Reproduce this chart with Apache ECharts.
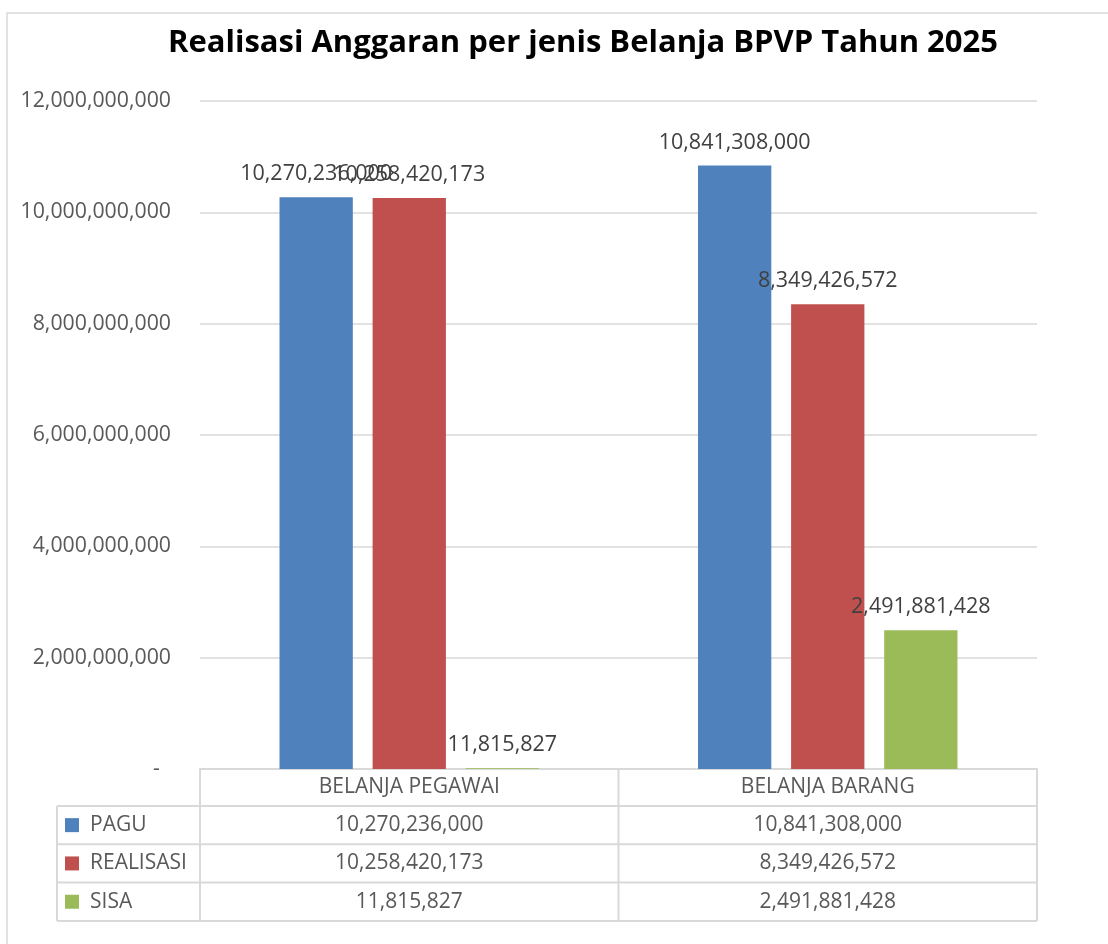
<!DOCTYPE html>
<html>
<head>
<meta charset="utf-8">
<script src="https://cdn.jsdelivr.net/npm/echarts@6/dist/echarts.min.js"></script>
<style>
  html, body { margin: 0; padding: 0; background: #ffffff; }
  #chart { width: 1108px; height: 944px; }
</style>
</head>
<body>
<div id="chart"></div>
<script>
// ---- data ----
const titleText = 'Realisasi Anggaran per jenis Belanja BPVP Tahun 2025';
const categories = ['BELANJA PEGAWAI', 'BELANJA BARANG'];
const seriesNames = ['PAGU', 'REALISASI', 'SISA'];
const pagu = [10270236000, 10841308000];
const realisasi = [10258420173, 8349426572];
const sisa = [11815827, 2491881428];
const yMin = 0, yMax = 12000000000, yStep = 2000000000;

// ---- styles ----
const colors = ['#4F81BD', '#C0504D', '#9BBB59'];
const FONT = '"Open Sans", "Noto Sans", sans-serif';
const fmt = v => Number(v).toLocaleString('en-US');
const seriesData = [pagu, realisasi, sisa];

const chart = echarts.init(document.getElementById('chart'), null, { renderer: 'canvas' });

const option = {
  backgroundColor: '#ffffff',
  animation: false,
  color: colors,
  title: {
    text: titleText,
    left: 578, top: 23, textAlign: 'center',
    textStyle: { fontFamily: FONT, fontWeight: 'bold', fontSize: 31, color: '#000000' }
  },
  grid: { left: 200, right: 71, top: 101, bottom: 175, containLabel: false },
  xAxis: {
    type: 'category',
    data: categories,
    axisTick: { show: false },
    axisLine: { show: true, lineStyle: { color: '#d9d9d9', width: 2 } },
    axisLabel: { show: true, margin: 8, fontFamily: FONT, fontSize: 21, color: '#595959', lineHeight: 21 }
  },
  yAxis: {
    type: 'value',
    min: yMin, max: yMax, interval: yStep,
    axisLine: { show: false },
    axisTick: { show: false },
    splitLine: { lineStyle: { color: '#d9d9d9', width: 1.5 } },
    axisLabel: {
      margin: 29, fontFamily: FONT, fontSize: 21.3, color: '#595959',
      formatter: v => v === 0 ? '-  ' : fmt(v)
    }
  },
  series: seriesNames.map((name, i) => ({
    name, type: 'bar',
    data: seriesData[i],
    barGap: '27%',
    barCategoryGap: '38%',
    itemStyle: { color: colors[i] },
    label: {
      show: true, position: 'top', distance: 12,
      fontFamily: FONT, fontSize: 21.5, color: '#404040',
      formatter: p => fmt(p.value)
    }
  }))
};
chart.setOption(option);

// ---- data table below the plot ----
const c0 = chart.convertToPixel({ xAxisIndex: 0 }, categories[0]);
const c1 = chart.convertToPixel({ xAxisIndex: 0 }, categories[1]);
const bw = c1 - c0;
const xLeft = c0 - bw / 2, xMid = c0 + bw / 2, xRight = c1 + bw / 2;
const y0 = chart.convertToPixel({ yAxisIndex: 0 }, 0);
const headH = 37, rowH = 38.3, legLeft = 57;
const tableBottom = y0 + headH + rowH * seriesNames.length;
const lineStyle = { stroke: '#d9d9d9', lineWidth: 2 };
const g = [];
// outer chart border
g.push({ type: 'rect', shape: { x: 7, y: 13, width: 1200, height: 1000 }, style: { fill: 'none', stroke: '#d9d9d9', lineWidth: 1.5 }, silent: true });
// verticals
[xLeft, xMid, xRight].forEach(x => g.push({ type: 'line', shape: { x1: x, y1: y0, x2: x, y2: tableBottom }, style: lineStyle, silent: true }));
g.push({ type: 'line', shape: { x1: legLeft, y1: y0 + headH, x2: legLeft, y2: tableBottom }, style: lineStyle, silent: true });
// horizontals
for (let i = 0; i <= seriesNames.length; i++) {
  const y = y0 + headH + rowH * i;
  g.push({ type: 'line', shape: { x1: legLeft, y1: y, x2: xRight, y2: y }, style: lineStyle, silent: true });
}
// rows
seriesNames.forEach((name, i) => {
  const cy = y0 + headH + rowH * i + rowH / 2;
  g.push({ type: 'rect', shape: { x: 65, y: cy - 7, width: 14, height: 14 }, style: { fill: colors[i] }, silent: true });
  g.push({ type: 'text', x: 90, y: cy, style: { text: name, font: '21px ' + FONT, fill: '#595959', textAlign: 'left', textVerticalAlign: 'middle' }, silent: true });
  categories.forEach((cat, j) => {
    const cx = j === 0 ? c0 : c1;
    g.push({ type: 'text', x: cx, y: cy, style: { text: fmt(seriesData[i][j]), font: '21px ' + FONT, fill: '#595959', textAlign: 'center', textVerticalAlign: 'middle' }, silent: true });
  });
});
chart.setOption({ graphic: { elements: g } });
</script>
</body>
</html>
